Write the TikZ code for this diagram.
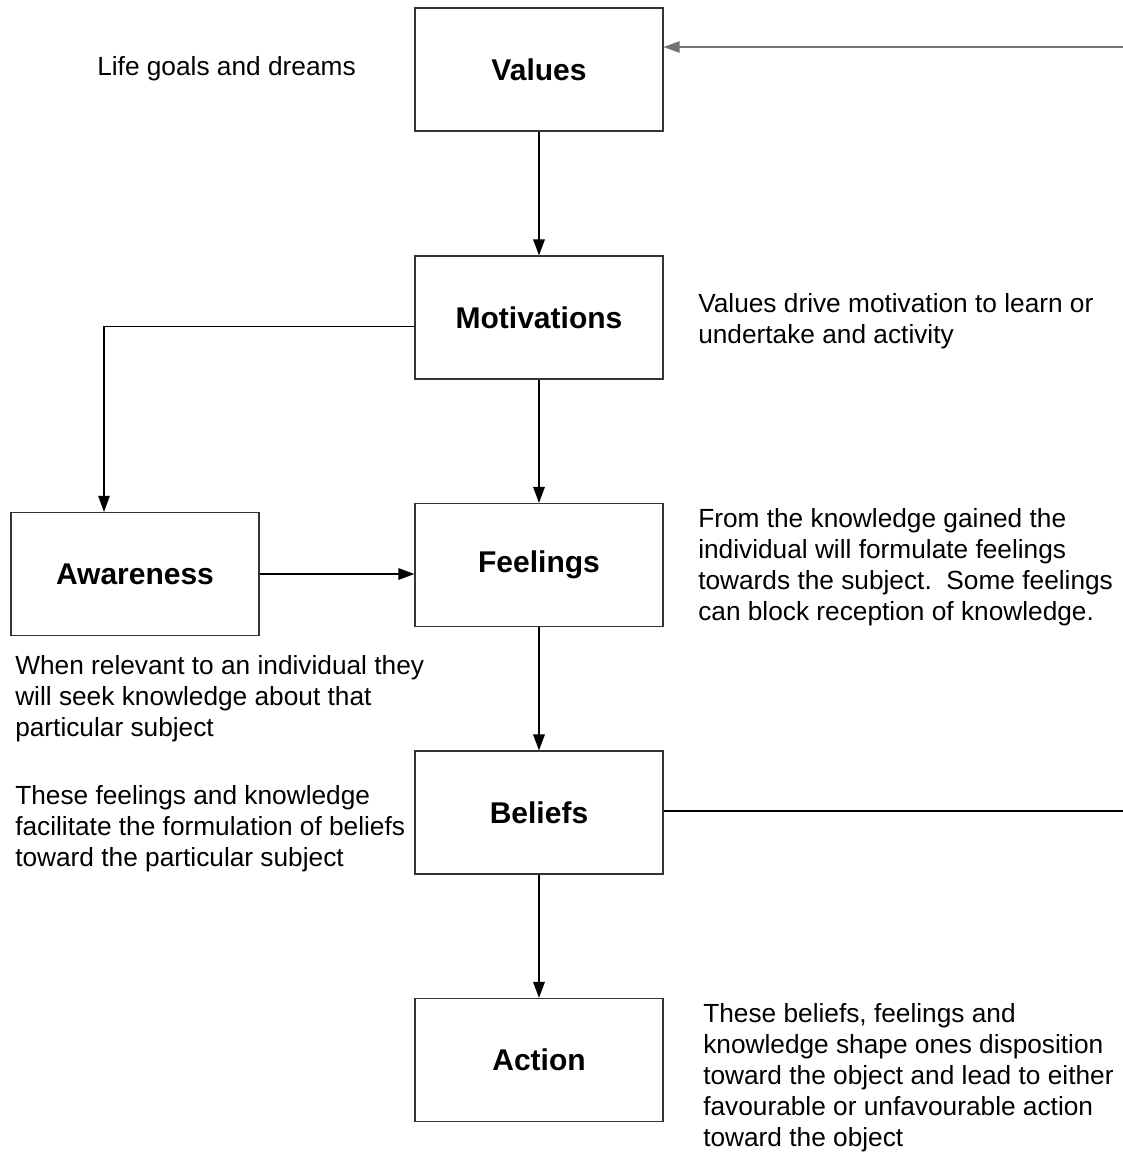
\documentclass[tikz,border=0pt]{standalone}
\usepackage{fontspec}
\setmainfont{Liberation Sans}
\usetikzlibrary{arrows.meta}
\begin{document}
\begin{tikzpicture}[x=0.75pt,y=-0.75pt,
  box/.style={draw=black!80,line width=0.8pt,minimum width=186pt,minimum height=92.25pt,inner sep=0pt,
    font=\fontsize{22.5pt}{26pt}\selectfont\bfseries},
  note/.style={anchor=north west,inner sep=0pt,align=left,font=\fontsize{19.7pt}{23.3pt}\selectfont},
  mainarrow/.style={line width=1.5pt,-{Triangle[length=12pt,width=8.5pt]}},
  sidearrow/.style={line width=0.8pt,-{Triangle[length=12pt,width=8.5pt]}},
  sideline/.style={line width=0.8pt}]
\useasboundingbox (0,0) rectangle (1123,1158);
\node[box] (Values) at (539,69.5) {Values};
\node[box] (Motivations) at (539,317.5) {Motivations};
\node[box] (Feelings) at (539,565) {Feelings};
\node[box] (Awareness) at (135,574) {Awareness};
\node[box] (Beliefs) at (539,812.5) {Beliefs};
\node[box] (Action) at (539,1060) {Action};

\node[note] (t1) at (97,56) {Life goals and dreams};
\node[note] (t2) at (698,293) {Values drive motivation to learn or\\undertake and activity};
\node[note] (t3) at (698,508) {From the knowledge gained the\\individual will formulate feelings\\towards the subject.\ \ Some feelings\\can block reception of knowledge.};
\node[note] (t4) at (15,655) {When relevant to an individual they\\will seek knowledge about that\\particular subject};
\node[note] (t5) at (15,785) {These feelings and knowledge\\facilitate the formulation of beliefs\\toward the particular subject};
\node[note] (t6) at (703,1003) {These beliefs, feelings and\\knowledge shape ones disposition\\toward the object and lead to either\\favourable or unfavourable action\\toward the object};

\draw[mainarrow] (Values.south) -- (Motivations.north);
\draw[mainarrow] (Motivations.south) -- (Feelings.north);
\draw[mainarrow] (Feelings.south) -- (Beliefs.north);
\draw[mainarrow] (Beliefs.south) -- (Action.north);
\draw[mainarrow] (Awareness.east) -- (Awareness.east -| Feelings.west);
\draw[sidearrow] ([yshift=-6.4pt]Motivations.west) -| ([xshift=-23.25pt]Awareness.north);
\coordinate (vr) at (1123,47);
\draw[sidearrow,draw=black!55] (vr) -- (vr -| Values.east);
\coordinate (br) at (1123,811);
\draw[sideline] (br -| Beliefs.east) -- (br);
\end{tikzpicture}
\end{document}
